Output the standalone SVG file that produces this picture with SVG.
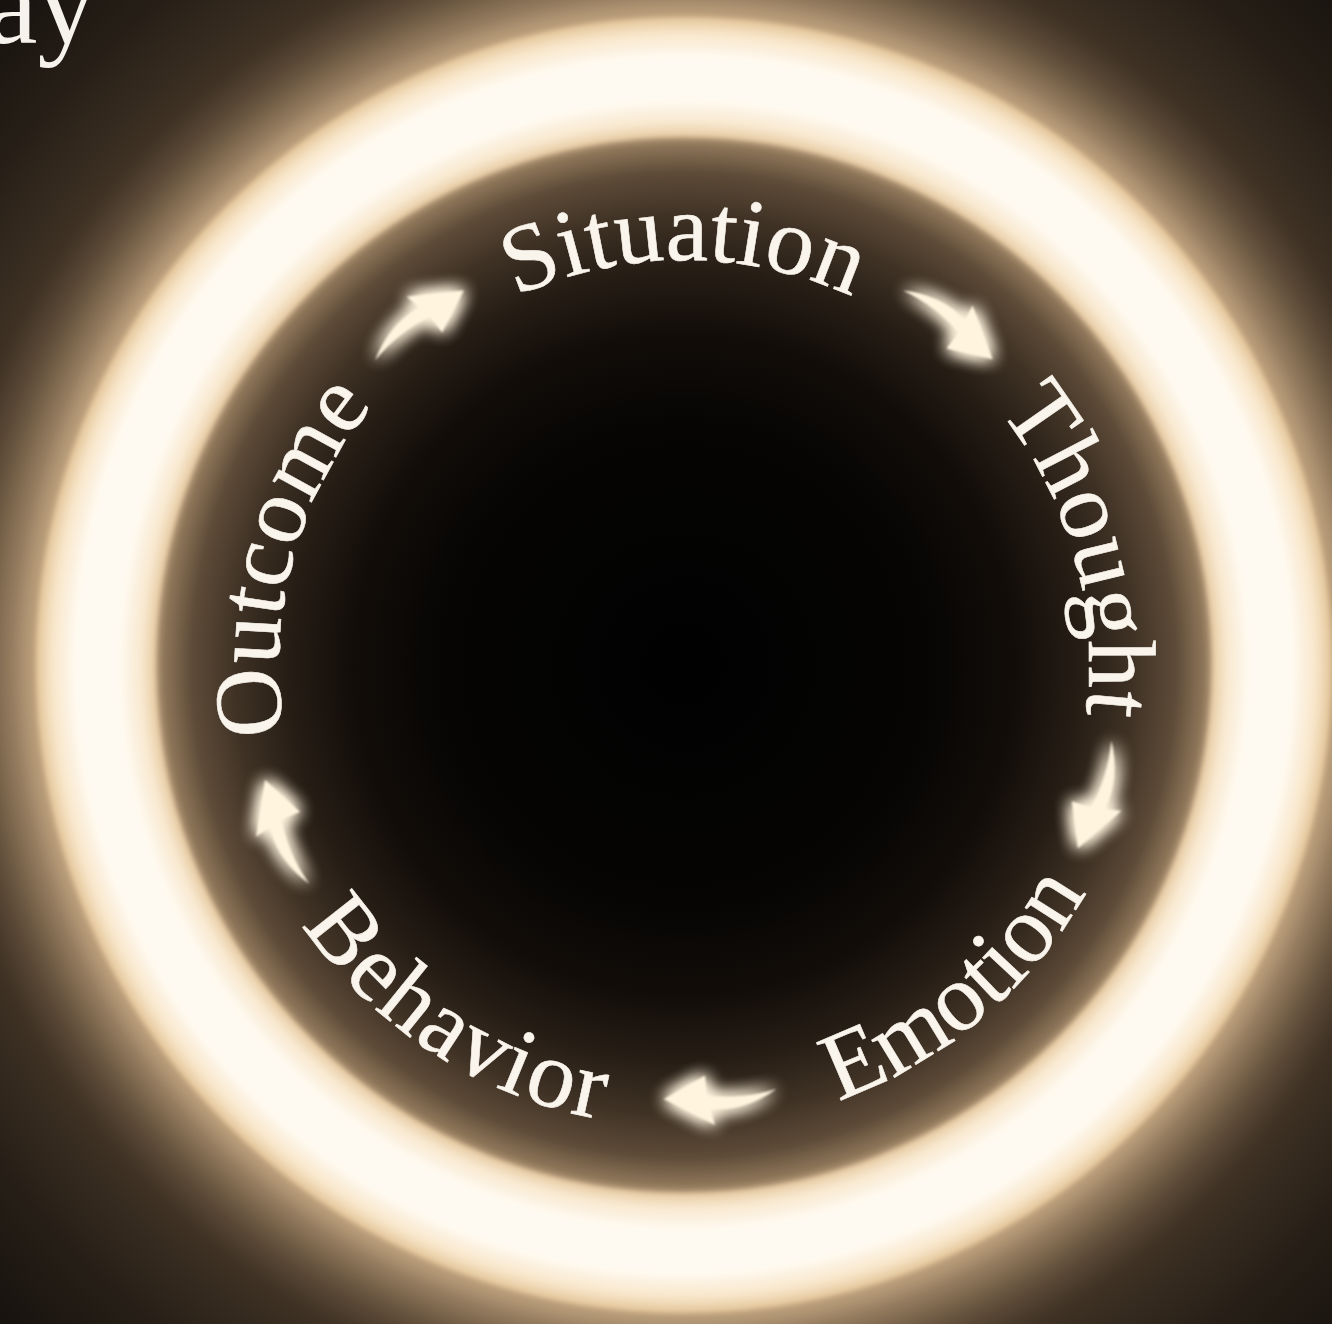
<svg xmlns="http://www.w3.org/2000/svg" width="1332" height="1324" viewBox="0 0 1332 1324">
<defs>
<style>
.lbl{font-family:"Liberation Serif","DejaVu Serif",serif;font-size:96px;fill:#f9f4ec;stroke:#f9f4ec;stroke-width:0.6px;}
.title{font-family:"Liberation Serif","DejaVu Serif",serif;font-size:116px;fill:#f6f2ec;}
.arrow{fill:#fff4de;}
</style>
<radialGradient id="bgGrad" gradientUnits="userSpaceOnUse" cx="684" cy="665" r="960">
<stop offset="0.66" stop-color="#a88c6a"/>
<stop offset="0.70" stop-color="#6e5841"/>
<stop offset="0.78" stop-color="#3e3124"/>
<stop offset="0.88" stop-color="#271f17"/>
<stop offset="1" stop-color="#15110d"/>
</radialGradient>
<radialGradient id="innerGrad" gradientUnits="userSpaceOnUse" cx="684" cy="665" r="535">
<stop offset="0" stop-color="#010101"/>
<stop offset="0.45" stop-color="#060504"/>
<stop offset="0.62" stop-color="#120d09"/>
<stop offset="0.74" stop-color="#261d15"/>
<stop offset="0.84" stop-color="#3f3225"/>
<stop offset="0.92" stop-color="#5e4b38"/>
<stop offset="0.97" stop-color="#8c7458"/>
<stop offset="1" stop-color="#c7ab86"/>
</radialGradient>
<radialGradient id="ringGrad" gradientUnits="userSpaceOnUse" cx="684" cy="665" r="650">
<stop offset="0.812" stop-color="#e6c9a0"/>
<stop offset="0.835" stop-color="#f8e8cf"/>
<stop offset="0.87" stop-color="#fffaf1"/>
<stop offset="0.935" stop-color="#fffaf1"/>
<stop offset="0.972" stop-color="#f8e6ca"/>
<stop offset="0.997" stop-color="#e3c598"/>
<stop offset="1" stop-color="#e0c090"/>
</radialGradient>
<filter id="bigBlur" x="-30%" y="-30%" width="160%" height="160%">
<feGaussianBlur stdDeviation="35"/>
</filter>
<filter id="softEdge" x="-10%" y="-10%" width="120%" height="120%">
<feGaussianBlur stdDeviation="2.5"/>
</filter>
<filter id="glow" x="-80%" y="-80%" width="260%" height="260%">
<feGaussianBlur in="SourceGraphic" stdDeviation="9" result="b"/>
<feGaussianBlur in="SourceGraphic" stdDeviation="1.2" result="s"/>
<feMerge><feMergeNode in="b"/><feMergeNode in="b"/><feMergeNode in="b"/><feMergeNode in="s"/></feMerge>
</filter>
<path id="arcTop" d="M 333.3 462.5 A 405 405 0 0 1 1034.7 462.5" fill="none"/>
<path id="arcBottom" d="M 283.9 896 A 462 462 0 0 0 1084.1 896" fill="none"/>
<path id="arrowShape" d="M 430 -58 Q 450 -26 445 9 L 461 6 L 431 55 L 411 12 L 431 12 Q 438 -22 430 -58 Z"/>
</defs>

<g id="background">
<rect x="0" y="0" width="1332" height="1324" fill="url(#bgGrad)"/>
<circle cx="684" cy="665" r="600" fill="none" stroke="#e8cba0" stroke-opacity="0.7" stroke-width="140" filter="url(#bigBlur)"/>
<circle cx="684" cy="665" r="532" fill="url(#innerGrad)"/>
</g>

<g id="ring">
<circle cx="684" cy="665" r="588" fill="none" stroke="url(#ringGrad)" stroke-width="120" filter="url(#softEdge)"/>
</g>

<text class="title" x="-14" y="43">ay</text>

<g id="label-situation">
<text class="lbl"><textPath href="#arcTop" startOffset="50%" text-anchor="middle">Situation</textPath></text>
</g>
<g id="label-thought" transform="rotate(74 684 665)">
<text class="lbl"><textPath href="#arcTop" startOffset="50%" text-anchor="middle">Thought</textPath></text>
</g>
<g id="label-emotion" transform="rotate(-40 684 665)">
<text class="lbl"><textPath href="#arcBottom" startOffset="50%" text-anchor="middle">Emotion</textPath></text>
</g>
<g id="label-behavior" transform="rotate(33 684 665)">
<text class="lbl" letter-spacing="2"><textPath href="#arcBottom" startOffset="50%" text-anchor="middle">Behavior</textPath></text>
</g>
<g id="label-outcome" transform="rotate(-75 684 665)">
<text class="lbl"><textPath href="#arcTop" startOffset="50%" text-anchor="middle">Outcome</textPath></text>
</g>

<g id="connectors" class="arrow" filter="url(#glow)">
<use href="#arrowShape" transform="translate(684 665) rotate(-52)"/>
<use href="#arrowShape" transform="translate(684 665) rotate(17.7)"/>
<use href="#arrowShape" transform="translate(684 665) rotate(85.4)"/>
<use href="#arrowShape" transform="translate(684 665) rotate(157.4)"/>
<use href="#arrowShape" transform="translate(684 665) rotate(232.3)"/>
</g>
</svg>
